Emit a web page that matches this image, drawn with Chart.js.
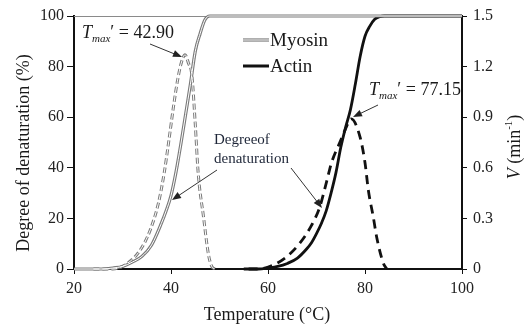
<!DOCTYPE html>
<html>
<head>
<meta charset="utf-8">
<script src="https://cdn.jsdelivr.net/npm/chart.js@4"></script>
<style>
  body { margin: 0; background: #fff; }
  canvas { display: block; }
</style>
</head>
<body>
<canvas id="myChart" width="526" height="326"></canvas>
<script>
// degree of denaturation (%)
const myosinTemp = [20, 26, 28, 30, 32, 34, 36, 38, 39, 40, 41, 42, 43, 44, 45, 46, 47, 48, 100];
const myosinDegree = [0, 0, 0.4, 1, 2.7, 5, 9.5, 18, 23, 29, 38, 49, 61, 73, 86, 93, 98.5, 100, 100];
const actinTemp = [55, 58, 60, 62, 64, 66, 68, 69, 70, 71, 72, 73, 74, 75, 76, 77, 78, 79, 80, 81, 82, 83, 84, 100];
const actinDegree = [0, 0, 0.4, 1, 2.2, 4.2, 8, 10.5, 14, 18, 23, 30, 38, 48, 56, 63, 73, 84, 92, 96, 98.7, 99.7, 100, 100];

// denaturation rate V (min-1)
const myosinRateTemp = [24, 28, 31, 33.6, 35.7, 37.4, 38.6, 39.6, 40.5, 41.3, 42.1, 42.9, 43.6, 44.3, 45, 45.6, 46.7, 47.7, 48.4, 49];
const myosinRate = [0, 0, 0.033, 0.11, 0.23, 0.39, 0.57, 0.77, 0.96, 1.11, 1.22, 1.27, 1.22, 1.15, 0.86, 0.57, 0.31, 0.09, 0.015, 0];
const actinRateTemp = [56, 58, 61.1, 63.9, 66.6, 69, 70.7, 72.1, 73.1, 74.8, 75.9, 77.15, 79, 80, 80.7, 81.7, 82.4, 83.8, 84.5];
const actinRate = [0, 0, 0.024, 0.074, 0.155, 0.26, 0.37, 0.52, 0.63, 0.75, 0.825, 0.89, 0.78, 0.63, 0.465, 0.31, 0.19, 0.033, 0];

const xTicks = [20, 40, 60, 80, 100];
const yTicks = [0, 20, 40, 60, 80, 100];
const vTicks = ['0', '0.3', '0.6', '0.9', '1.2', '1.5'];

const serif = "'Liberation Serif', 'DejaVu Serif', serif";
const gray = '#7a7a7a';
const black = '#111';

function pts(xs, ys) {
    return xs.map((x, i) => ({ x: x, y: ys[i] }));
}

function line(data, axis, color, width, dash, order) {
    return {
        data: data,
        yAxisID: axis,
        borderColor: color,
        borderWidth: width,
        borderDash: dash || [],
        pointRadius: 0,
        fill: false,
        cubicInterpolationMode: 'monotone',
        clip: 5,
        order: order
    };
}

function arrow(ctx, x1, y1, x2, y2) {
    const a = Math.atan2(y2 - y1, x2 - x1);
    ctx.save();
    ctx.strokeStyle = '#333';
    ctx.fillStyle = '#222';
    ctx.lineWidth = 1;
    ctx.beginPath();
    ctx.moveTo(x1, y1);
    ctx.lineTo(x2 - 6 * Math.cos(a), y2 - 6 * Math.sin(a));
    ctx.stroke();
    ctx.beginPath();
    ctx.moveTo(x2, y2);
    ctx.lineTo(x2 - 9 * Math.cos(a) + 3.5 * Math.sin(a), y2 - 9 * Math.sin(a) - 3.5 * Math.cos(a));
    ctx.lineTo(x2 - 9 * Math.cos(a) - 3.5 * Math.sin(a), y2 - 9 * Math.sin(a) + 3.5 * Math.cos(a));
    ctx.closePath();
    ctx.fill();
    ctx.restore();
}

// T_max' = value, with italic T and subscript "max"
function tmaxLabel(ctx, x, y, value) {
    ctx.save();
    ctx.fillStyle = '#1a1a1a';
    ctx.textBaseline = 'alphabetic';
    ctx.textAlign = 'left';
    ctx.font = 'italic 18px ' + serif;
    ctx.fillText('T', x, y);
    x += ctx.measureText('T').width;
    ctx.font = 'italic 11px ' + serif;
    ctx.fillText('max', x, y + 4);
    x += ctx.measureText('max').width;
    ctx.font = '18px ' + serif;
    ctx.fillText('\u2032 = ' + value, x, y);
    ctx.restore();
}

const extras = {
    id: 'extras',
    beforeDatasetsDraw(chart) {
        const ctx = chart.ctx;
        const a = chart.chartArea;
        ctx.save();
        ctx.strokeStyle = '#8a8a8a';
        ctx.lineWidth = 1;
        ctx.beginPath();
        ctx.moveTo(a.left, a.top + 0.5);
        ctx.lineTo(a.right, a.top + 0.5);
        ctx.stroke();
        ctx.restore();
    },
    afterDraw(chart) {
        const ctx = chart.ctx;
        ctx.save();
        ctx.fillStyle = '#1a1a1a';
        ctx.textAlign = 'center';
        ctx.textBaseline = 'middle';

        // axis titles
        ctx.font = '18px ' + serif;
        ctx.fillText('Temperature (\u00B0C)', 267, 315);
        ctx.save();
        ctx.translate(24, 153);
        ctx.rotate(-Math.PI / 2);
        ctx.fillText('Degree of denaturation (%)', 0, 0);
        ctx.restore();

        // right title: V (min-1)
        ctx.save();
        ctx.translate(515, 147);
        ctx.rotate(-Math.PI / 2);
        ctx.textAlign = 'left';
        ctx.font = 'italic 18px ' + serif;
        const wV = ctx.measureText('V').width;
        ctx.font = '18px ' + serif;
        const wA = ctx.measureText(' (min').width;
        const wC = ctx.measureText(')').width;
        ctx.font = '11px ' + serif;
        const wS = ctx.measureText('-1').width;
        let x = -(wV + wA + wS + wC) / 2;
        ctx.font = 'italic 18px ' + serif;
        ctx.fillText('V', x, 0);
        x += wV;
        ctx.font = '18px ' + serif;
        ctx.fillText(' (min', x, 0);
        x += wA;
        ctx.font = '11px ' + serif;
        ctx.fillText('-1', x, -6);
        x += wS;
        ctx.font = '18px ' + serif;
        ctx.fillText(')', x, 0);
        ctx.restore();

        // legend
        ctx.lineCap = 'butt';
        ctx.strokeStyle = gray;
        ctx.lineWidth = 3.2;
        ctx.beginPath(); ctx.moveTo(243, 40); ctx.lineTo(269, 40); ctx.stroke();
        ctx.strokeStyle = '#fff';
        ctx.lineWidth = 1;
        ctx.beginPath(); ctx.moveTo(243, 40); ctx.lineTo(269, 40); ctx.stroke();
        ctx.strokeStyle = black;
        ctx.lineWidth = 3;
        ctx.beginPath(); ctx.moveTo(243, 66); ctx.lineTo(269, 66); ctx.stroke();
        ctx.textAlign = 'left';
        ctx.font = '19px ' + serif;
        ctx.fillText('Myosin', 270, 41);
        ctx.fillText('Actin', 270, 67);

        // annotations
        tmaxLabel(ctx, 82, 38, '42.90');
        arrow(ctx, 150, 44, 182, 57);
        tmaxLabel(ctx, 369, 95, '77.15');
        arrow(ctx, 378, 105, 353, 117);

        ctx.font = '15px ' + serif;
        ctx.textAlign = 'left';
        ctx.fillStyle = '#1e2638';
        ctx.fillText('Degreeof', 214, 140);
        ctx.fillText('denaturation', 214, 159);
        arrow(ctx, 217, 170, 172, 200);
        arrow(ctx, 291, 168, 322, 208);
        ctx.restore();
    }
};

const ctx = document.getElementById('myChart').getContext('2d');
const myChart = new Chart(ctx, {
    type: 'line',
    data: {
        datasets: [
            // inner white lines first so they sit on top of the gray ones
            line(pts(myosinTemp, myosinDegree), 'y', '#fff', 1, null, 0),
            line(pts(myosinRateTemp, myosinRate), 'y1', '#fff', 1, [6, 3], 0),
            line(pts(myosinTemp, myosinDegree), 'y', gray, 3.2, null, 1),
            line(pts(myosinRateTemp, myosinRate), 'y1', gray, 3, [6, 3], 1),
            line(pts(actinTemp, actinDegree), 'y', black, 2.8, null, 2),
            line(pts(actinRateTemp, actinRate), 'y1', black, 2.8, [9, 6], 2)
        ]
    },
    options: {
        responsive: false,
        animation: false,
        layout: { padding: { top: 16, left: 0, right: 0, bottom: 0 } },
        plugins: {
            legend: { display: false },
            tooltip: { enabled: false }
        },
        scales: {
            x: {
                type: 'linear',
                min: 20,
                max: 100,
                afterFit: s => { s.height = 57; },
                afterBuildTicks: s => { s.ticks = xTicks.map(v => ({ value: v })); },
                ticks: { font: { family: serif, size: 16 }, color: '#222', padding: 5, maxRotation: 0 },
                grid: { drawOnChartArea: false, tickLength: 5, color: black, tickWidth: 1 },
                border: { color: black, width: 2 }
            },
            y: {
                position: 'left',
                min: 0,
                max: 100,
                afterFit: s => { s.width = 74; },
                afterBuildTicks: s => { s.ticks = yTicks.map(v => ({ value: v })); },
                ticks: { font: { family: serif, size: 16 }, color: '#222', padding: 3 },
                grid: { drawOnChartArea: false, tickLength: 7, color: black, tickWidth: 1 },
                border: { color: black, width: 2 }
            },
            y1: {
                position: 'right',
                min: 0,
                max: 1.5,
                afterFit: s => { s.width = 64; },
                afterBuildTicks: s => { s.ticks = vTicks.map(v => ({ value: parseFloat(v) })); },
                ticks: {
                    font: { family: serif, size: 16 },
                    color: '#222',
                    padding: 6,
                    callback: (v, i) => vTicks[i]
                },
                grid: { drawOnChartArea: false, tickLength: 5, color: black, tickWidth: 1 },
                border: { color: black, width: 2 }
            }
        }
    },
    plugins: [extras]
});
</script>
</body>
</html>
